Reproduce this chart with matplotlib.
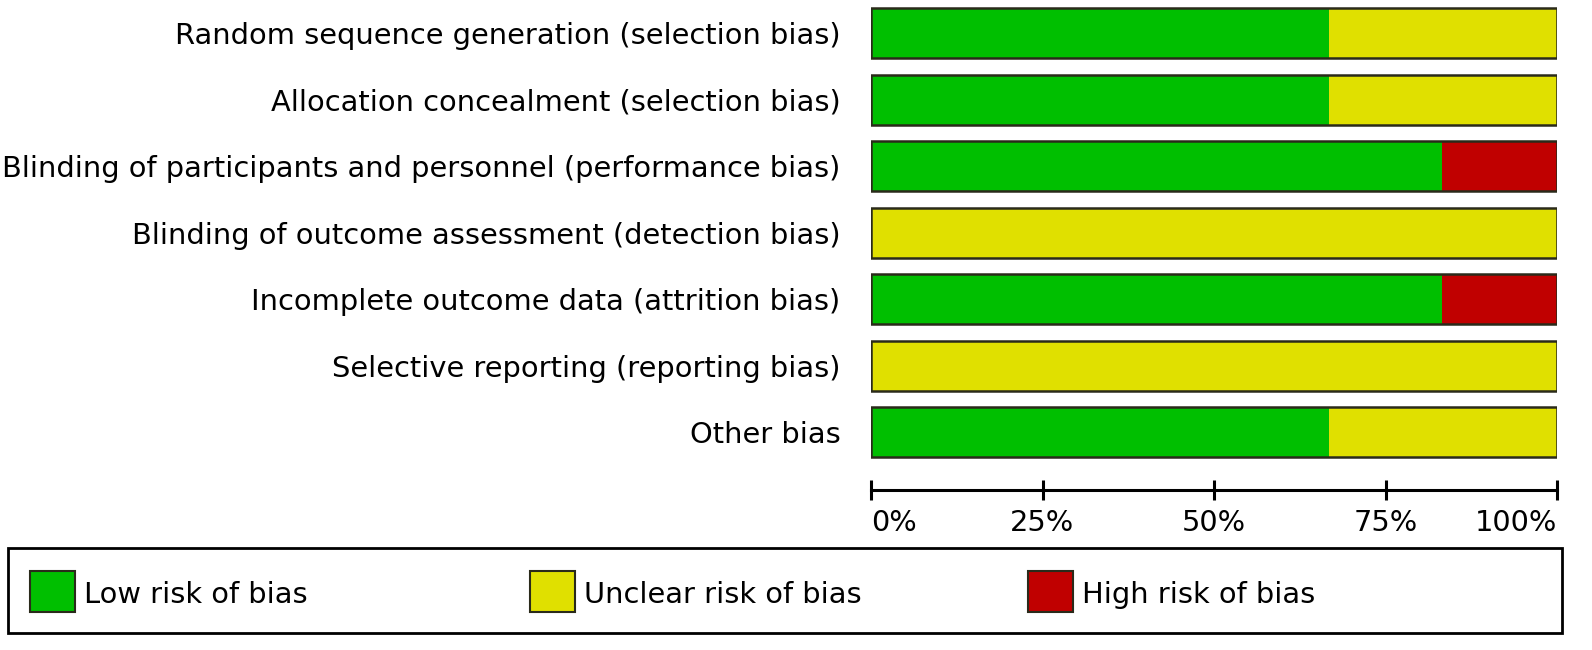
import matplotlib
matplotlib.use("Agg")
import matplotlib.pyplot as plt
from matplotlib.patches import Rectangle
import numpy as np

# risk of bias domains and percentage of studies per judgement
domains = ['Random sequence generation (selection bias)',
           'Allocation concealment (selection bias)',
           'Blinding of participants and personnel (performance bias)',
           'Blinding of outcome assessment (detection bias)',
           'Incomplete outcome data (attrition bias)',
           'Selective reporting (reporting bias)',
           'Other bias']
low = [66.7, 66.7, 83.3, 0, 83.3, 0, 66.7]
unclear = [33.3, 33.3, 0, 100, 0, 100, 33.3]
high = [0, 0, 16.7, 0, 16.7, 0, 0]

tick_vals = [0, 25, 50, 75, 100]
tick_labels = ['0%', '25%', '50%', '75%', '100%']
legend_names = ['Low risk of bias', 'Unclear risk of bias', 'High risk of bias']

green = '#00BF00'
yellow = '#E0E000'
red = '#C00000'
edge = '#2a2a1a'
fs = 20.8

W, H = 1592, 650
fig = plt.figure(figsize=(W / 100, H / 100), dpi=100)
plt.rcParams['font.family'] = 'DejaVu Sans'

ax = fig.add_axes([871 / W, 1 - 490 / H, 686 / W, 490 / H])
y = np.arange(len(domains))
low = np.array(low)
unclear = np.array(unclear)
high = np.array(high)
ax.barh(y, low, height=0.75, color=green, edgecolor='none')
ax.barh(y, unclear, left=low, height=0.75, color=yellow, edgecolor='none')
ax.barh(y, high, left=low + unclear, height=0.75, color=red, edgecolor='none')
ax.barh(y, low + unclear + high, height=0.75, fill=False, edgecolor=edge, linewidth=1.8)

ax.set_xlim(0, 100)
ax.set_ylim(len(domains) - 1 + 0.87, -0.5)
ax.set_yticks(y)
ax.set_yticklabels(domains, fontsize=fs)
ax.tick_params(axis='y', length=0, pad=22)

for s in ['top', 'right', 'left']:
    ax.spines[s].set_visible(False)
ax.spines['bottom'].set_linewidth(2.2)
ax.set_xticks(tick_vals)
ax.set_xticklabels(tick_labels, fontsize=fs)
ax.tick_params(axis='x', direction='inout', length=14, width=2.2, pad=7)
labs = ax.get_xticklabels()
labs[0].set_ha('left')
labs[-1].set_ha('right')

# legend box
fig.patches.append(Rectangle((8 / W, 1 - 633 / H), 1554 / W, 85 / H,
                             transform=fig.transFigure, fill=False,
                             edgecolor='black', linewidth=2))
lx = [30, 530, 1028]
for x0, c, name in zip(lx, [green, yellow, red], legend_names):
    fig.patches.append(Rectangle((x0 / W, 1 - 612 / H), 45 / W, 41 / H,
                                 transform=fig.transFigure, facecolor=c,
                                 edgecolor=edge, linewidth=1.5))
    fig.text((x0 + 54) / W, 1 - 595 / H, name, fontsize=fs, va='center', ha='left')

fig.savefig('out.png', dpi=100)
